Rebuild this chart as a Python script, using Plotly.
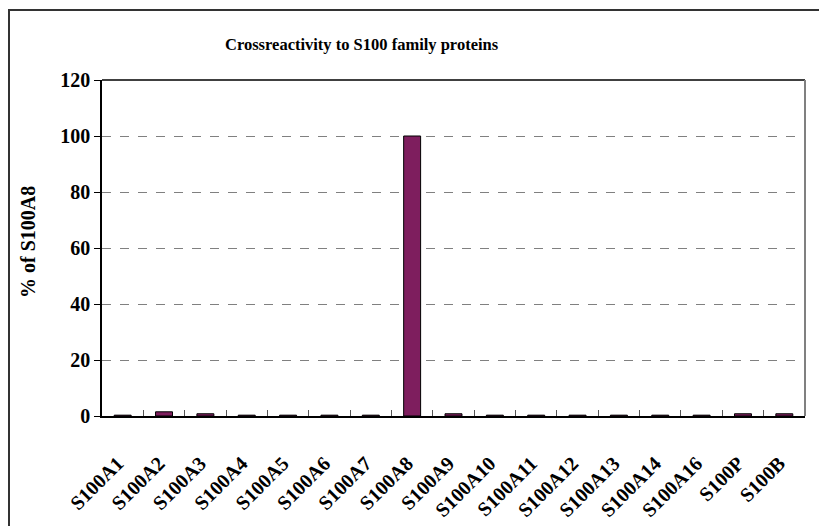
import plotly.graph_objects as go

categories = ["S100A1", "S100A2", "S100A3", "S100A4", "S100A5", "S100A6", "S100A7",
              "S100A8", "S100A9", "S100A10", "S100A11", "S100A12", "S100A13",
              "S100A14", "S100A16", "S100P", "S100B"]
values = [0.3, 1.5, 0.8, 0.3, 0.3, 0.3, 0.3, 100, 0.8, 0.3, 0.3, 0.3, 0.3, 0.3, 0.3, 0.8, 0.8]
y_ticks = [0, 20, 40, 60, 80, 100, 120]

FONT = "Liberation Serif"
# page has an 8px body margin, so figure is sized to fill the rest of the window
W, H = 819, 518
L, R, T, B = 94, 22, 72, 110
pw, ph = W - L - R, H - T - B

def px(x):
    return (x - L) / pw

def py(y):
    return (H - B - y) / ph

fig = go.Figure()
fig.add_trace(go.Bar(
    x=categories, y=values,
    marker=dict(color="#7E1E5E", line=dict(color="#000000", width=1)),
    width=0.41,
))

fig.update_layout(
    width=W, height=H,
    margin=dict(l=L, r=R, t=T, b=B, autoexpand=False),
    paper_bgcolor="white", plot_bgcolor="white",
    showlegend=False,
    font=dict(family=FONT, color="black"),
    xaxis=dict(
        type="category",
        tickangle=-45,
        tickfont=dict(family=FONT, size=20, weight="bold", color="black"),
        ticklabelstandoff=26,
        ticklabelshift=-5,
        showline=True, linecolor="black", linewidth=1.5, mirror=False,
        ticks="inside", tickson="boundaries", ticklen=6, tickcolor="#555555",
        showgrid=False,
    ),
    yaxis=dict(
        range=[0, 120],
        tickvals=y_ticks,
        tickfont=dict(family=FONT, size=20, weight="bold", color="black"),
        showline=True, linecolor="black", linewidth=1.5,
        ticks="outside", ticklen=6, tickcolor="black",
        showgrid=True, gridcolor="#808080", griddash="dash", gridwidth=1,
        zeroline=False,
    ),
    annotations=[
        dict(text="Crossreactivity to S100 family proteins", xref="paper", yref="paper",
             x=px(354), y=py(37), xanchor="center", yanchor="middle", showarrow=False,
             font=dict(family=FONT, size=16.5, weight="bold", color="black")),
        dict(text="% of S100A8", xref="paper", yref="paper", textangle=-90,
             x=px(20), y=py(234), xanchor="center", yanchor="middle", showarrow=False,
             font=dict(family=FONT, size=20, weight="bold", color="black")),
    ],
    shapes=[
        dict(type="line", xref="paper", yref="paper", x0=0, x1=1, y0=1, y1=1,
             line=dict(color="black", width=1.5)),
        dict(type="line", xref="paper", yref="paper", x0=1, x1=1, y0=0, y1=1,
             line=dict(color="#808080", width=2)),
        dict(type="rect", xref="paper", yref="paper",
             x0=px(1), x1=px(830), y0=py(530), y1=py(2),
             line=dict(color="#333333", width=2), fillcolor="rgba(0,0,0,0)", layer="below"),
    ],
)

fig.write_html("out.html")
